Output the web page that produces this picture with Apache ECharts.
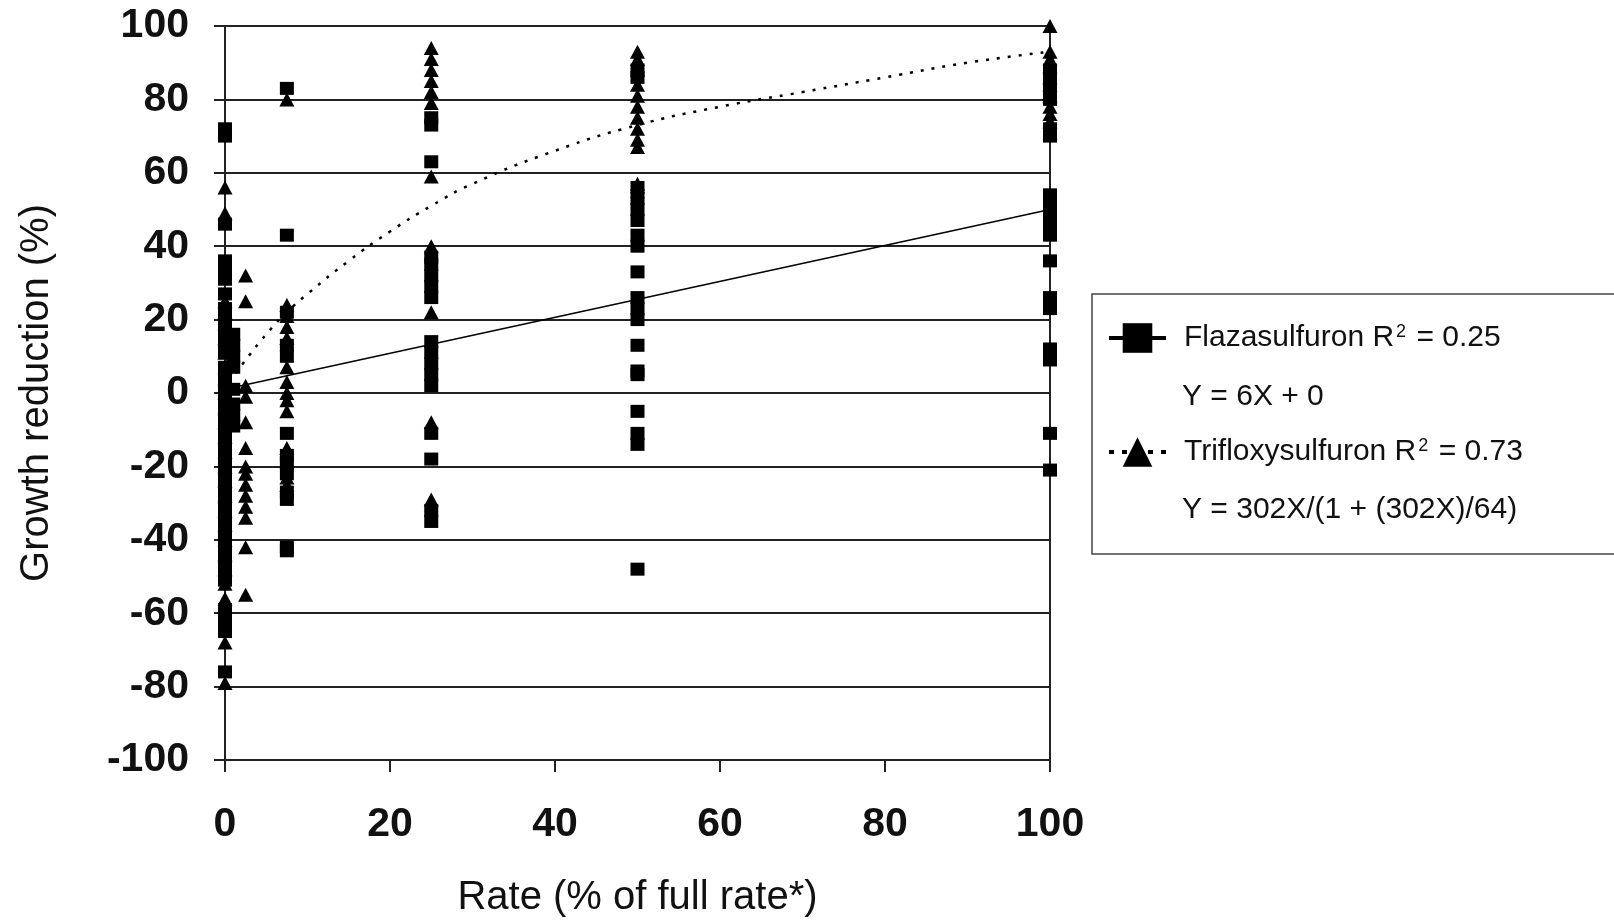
<!DOCTYPE html>
<html>
<head>
<meta charset="utf-8">
<script src="https://cdn.jsdelivr.net/npm/echarts@6/dist/echarts.min.js"></script>
<style>
  html, body { margin: 0; padding: 0; background: #fff; }
  #chart { width: 1614px; height: 923px; }
</style>
</head>
<body>
<div id="chart"></div>
<script>
// ---- Data ----
const xTicks = [0, 20, 40, 60, 80, 100];
const yTicks = [-100, -80, -60, -40, -20, 0, 20, 40, 60, 80, 100];

// Rates (% of full rate) at which observations were made
const rates = [0, 1, 2.5, 7.5, 25, 50, 100];

// Flazasulfuron (squares) growth reduction per rate
const flaza0 = [72, 70, 46, 36, 34, 31, 27, 23, 21, 18, 16, 13, 11, 7, 4, 1, -2, -5, -8, -11, -14, -17, -20, -23, -26, -29, -31, -34, -37, -40, -43, -45, -48, -51, -59, -62, -65, -76];
const flaza1 = [16, 13, 10, 7, 1, -3, -6, -9];
const flaza2_5 = [];
const flaza7_5 = [83, 43, 22, 13, 10, -11, -17, -19, -22, -27, -29, -42, -43];
const flaza25 = [75, 73, 63, 37, 35, 32, 29, 26, 14, 11, 8, 5, 2, -11, -18, -32, -35];
const flaza50 = [88, 86, 56, 53, 50, 47, 43, 40, 33, 26, 23, 20, 13, 6, 5, -5, -11, -14, -48];
const flaza100 = [88, 86, 83, 80, 72, 70, 54, 52, 49, 46, 43, 36, 26, 23, 12, 9, -11, -21];

// Trifloxysulfuron (triangles) growth reduction per rate
const triflox0 = [56, 49, 25, 22, 19, 15, 11, 7, 4, 0, -4, -8, -12, -16, -20, -24, -28, -32, -36, -40, -44, -48, -52, -56, -68, -79];
const triflox1 = [];
const triflox2_5 = [32, 25, 2, -1, -8, -15, -20, -22, -25, -28, -31, -34, -42, -55];
const triflox7_5 = [80, 24, 21, 18, 15, 7, 3, 0, -2, -5, -15, -23, -25];
const triflox25 = [94, 91, 88, 85, 82, 79, 59, 40, 22, -8, -29];
const triflox50 = [93, 91, 88, 84, 81, 78, 75, 72, 69, 67, 57, 55];
const triflox100 = [100, 93, 91, 89, 86, 84, 81, 78, 76, 74, 71];

// Fitted trend lines
const flazaTrendX = [0, 100];
const flazaTrendY = [1, 50];
const trifloxTrendX = [0.5, 2.5, 5, 7.5, 10, 15, 20, 25, 30, 40, 50, 60, 70, 80, 90, 100];
const trifloxTrendY = [3, 9, 16, 22, 27, 36, 44, 51, 57, 66, 73, 78, 82, 86, 90, 93];

// ---- Build series data ----
const flazaGroups = [flaza0, flaza1, flaza2_5, flaza7_5, flaza25, flaza50, flaza100];
const trifloxGroups = [triflox0, triflox1, triflox2_5, triflox7_5, triflox25, triflox50, triflox100];
function pairs(groups) {
  const out = [];
  groups.forEach((vals, i) => vals.forEach(v => out.push([rates[i], v])));
  return out;
}
const zip = (xs, ys) => xs.map((x, i) => [x, ys[i]]);

const tickFont = "'Liberation Sans', Arial, sans-serif";
const textFont = "'Liberation Sans', Arial, sans-serif";

const chart = echarts.init(document.getElementById('chart'), null, { renderer: 'canvas' });
chart.setOption({
  animation: false,
  backgroundColor: '#ffffff',
  grid: { left: 225, right: 564, top: 26, bottom: 157, show: true, borderColor: '#222', borderWidth: 2, backgroundColor: 'transparent' },
  xAxis: {
    type: 'value', min: 0, max: 100, interval: 20,
    name: 'Rate (% of full rate*)', nameLocation: 'middle', nameGap: 118,
    nameTextStyle: { fontFamily: textFont, fontSize: 40, color: '#111' },
    axisLine: { show: true, onZero: false, lineStyle: { color: '#222', width: 2 } },
    axisTick: { show: true, length: 12, lineStyle: { color: '#222', width: 2 } },
    axisLabel: { margin: 44, fontFamily: tickFont, fontWeight: 'bold', fontSize: 41, color: '#111',
      formatter: v => String(v) },
    splitLine: { show: false }
  },
  yAxis: {
    type: 'value', min: -100, max: 100, interval: 20,
    name: 'Growth reduction (%)', nameLocation: 'middle', nameGap: 168, nameRotate: 90,
    nameTextStyle: { fontFamily: textFont, fontSize: 40, color: '#111' },
    axisLine: { show: true, onZero: false, lineStyle: { color: '#222', width: 2 } },
    axisTick: { show: true, length: 11, lineStyle: { color: '#222', width: 2 } },
    axisLabel: { margin: 36, fontFamily: tickFont, fontWeight: 'bold', fontSize: 41, color: '#111',
      formatter: v => String(v) },
    splitLine: { show: true, lineStyle: { color: '#222', width: 2 } }
  },
  legend: {
    orient: 'vertical', left: 1092, top: 294,
    padding: [29, 130, 87, 15],
    itemGap: 84, itemWidth: 57, itemHeight: 37,
    borderColor: '#444', borderWidth: 1.5,
    selectedMode: false,
    data: [
      { name: 'Flazasulfuron', lineStyle: { width: 4, type: 'solid', color: '#000' } },
      { name: 'Trifloxysulfuron', lineStyle: { width: 4, type: [5, 8], color: '#000' } }
    ],
    formatter: name => name === 'Flazasulfuron'
      ? '{t|Flazasulfuron R}{s|2}{t| = 0.25}'
      : '{t|Trifloxysulfuron R}{s|2}{t| = 0.73}',
    textStyle: {
      padding: [0, 0, 0, 13],
      rich: {
        t: { fontFamily: textFont, fontSize: 30, color: '#111' },
        s: { fontFamily: textFont, fontSize: 18, color: '#111', verticalAlign: 'top', padding: [0, 2, 12, 2] }
      }
    }
  },
  graphic: [
    { type: 'text', left: 1182, top: 382, style: { text: 'Y = 6X + 0', font: '30px ' + textFont, fill: '#111' } },
    { type: 'text', left: 1182, top: 495, style: { text: 'Y = 302X/(1 + (302X)/64)', font: '30px ' + textFont, fill: '#111' } }
  ],
  series: [
    {
      name: 'Flazasulfuron', type: 'line', symbol: 'rect', showSymbol: false,
      data: zip(flazaTrendX, flazaTrendY),
      lineStyle: { color: '#000', width: 1.5 }, itemStyle: { color: '#000' }, z: 3
    },
    {
      name: 'Trifloxysulfuron', type: 'line', symbol: 'triangle', showSymbol: false, smooth: true,
      data: zip(trifloxTrendX, trifloxTrendY),
      lineStyle: { color: '#000', width: 2.5, type: [3, 8] }, itemStyle: { color: '#000' }, z: 3
    },
    {
      name: 'Flazasulfuron', type: 'scatter', symbol: 'rect', symbolSize: [14, 13],
      data: pairs(flazaGroups), itemStyle: { color: '#000', opacity: 1 }, z: 4
    },
    {
      name: 'Trifloxysulfuron', type: 'scatter', symbol: 'triangle', symbolSize: [15, 14],
      data: pairs(trifloxGroups), itemStyle: { color: '#000', opacity: 1 }, z: 4
    }
  ]
});
</script>
</body>
</html>
